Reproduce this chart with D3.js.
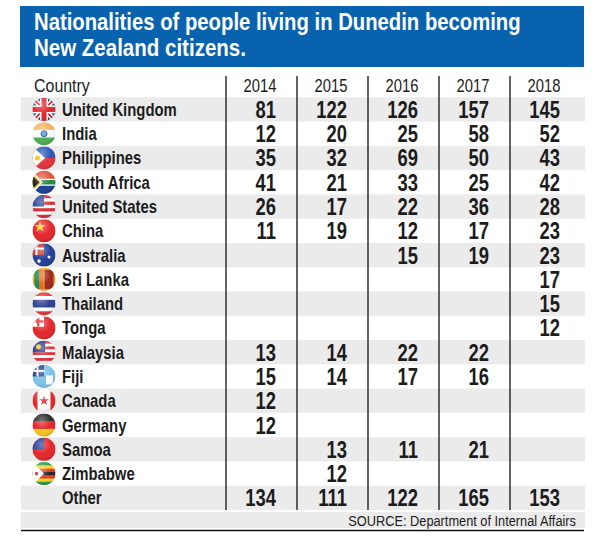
<!DOCTYPE html>
<html><head><meta charset="utf-8">
<script src="https://cdn.jsdelivr.net/npm/d3@7"></script>
<style>body{margin:0;background:#fff}svg{display:block}</style>
</head><body><svg id="c" width="607" height="536"></svg>
<script>
const titleLines = ["Nationalities of people living in Dunedin becoming", "New Zealand citizens."];
const source = "SOURCE: Department of Internal Affairs";
const years = ["2014", "2015", "2016", "2017", "2018"];
const countries = ["United Kingdom","India","Philippines","South Africa","United States","China","Australia","Sri Lanka","Thailand","Tonga","Malaysia","Fiji","Canada","Germany","Samoa","Zimbabwe","Other"];
const flags = ["gb","in","ph","za","us","cn","au","lk","th","to","my","fj","ca","de","ws","zw",null];
const v2014 = [81,12,35,41,26,11,null,null,null,null,13,15,12,12,null,null,134];
const v2015 = [122,20,32,21,17,19,null,null,null,null,14,14,null,null,13,12,111];
const v2016 = [126,25,69,33,22,12,15,null,null,null,22,17,null,null,11,null,122];
const v2017 = [157,58,50,25,36,17,19,null,null,null,22,16,null,null,21,null,165];
const v2018 = [145,52,43,42,28,23,23,17,15,12,null,null,null,null,null,null,153];
const series = [v2014, v2015, v2016, v2017, v2018];

const svg = d3.select("#c");
const FONT = "'Liberation Sans',Arial,Helvetica,sans-serif";
const INK = "#1c1c1c";

function fitWidth(node, x0, y0, target){
  const w = node.getComputedTextLength();
  const k = w > 0 ? target / w : 1;
  d3.select(node).attr("transform", `translate(${x0},${y0}) scale(${k},1)`);
}

// header
svg.append("rect").attr("x",20).attr("y",6).attr("width",564).attr("height",61).attr("fill","#0862ad");
const titleW = [487, 212];
svg.selectAll("text.title").data(titleLines).join("text").attr("class","title")
  .attr("fill","#fff").attr("font-family",FONT).attr("font-weight","bold").attr("font-size",23)
  .text(d=>d)
  .each(function(d,i){ fitWidth(this, 34, 30+i*26, titleW[i]); });

const rowKeys = ["__header", ...countries];
const y = d3.scaleBand().domain(rowKeys).range([73, 510]);
const x = d3.scaleBand().domain(years).range([226, 581]);
const rightPad = 21;

// stripes
svg.selectAll("rect.stripe").data(countries.filter((d,i)=>i%2===0)).join("rect").attr("class","stripe")
  .attr("x",21).attr("width",564).attr("y",d=>y(d)).attr("height",y.bandwidth())
  .attr("fill","#ebebeb");
svg.append("rect").attr("x",21).attr("width",564).attr("y",512).attr("height",16).attr("fill","#ebebeb");
svg.append("line").attr("x1",21).attr("x2",584).attr("y1",530.5).attr("y2",530.5).attr("stroke","#111").attr("stroke-width",1.5);

// dividers
svg.selectAll("line.div").data(years).join("line").attr("class","div")
  .attr("x1",d=>x(d)).attr("x2",d=>x(d)).attr("y1",y("__header")+3).attr("y2",y.range()[1])
  .attr("stroke","#222").attr("stroke-width",1.4);

// header row
svg.append("text").attr("font-family",FONT).attr("font-size",19).attr("fill",INK).text("Country")
  .attr("transform",`translate(34,${y("__header")+y.bandwidth()/2+6.5}) scale(0.84,1)`);
svg.selectAll("text.yr").data(years).join("text").attr("class","yr")
  .attr("text-anchor","end").attr("font-family",FONT).attr("font-size",18.5).attr("fill",INK).text(d=>d)
  .attr("transform",d=>`translate(${x(d)+x.bandwidth()-rightPad+0.5},${y("__header")+y.bandwidth()/2+6.5}) scale(0.8,1)`);

// country names
svg.selectAll("text.cn").data(countries).join("text").attr("class","cn")
  .attr("font-family",FONT).attr("font-weight","bold").attr("font-size",18.6).attr("fill",INK).text(d=>d)
  .attr("transform",d=>`translate(62,${y(d)+y.bandwidth()/2+6.5}) scale(0.8,1)`);

// values
years.forEach((yr,j)=>{
  const cells = countries.map((c,i)=>({c, v:series[j][i]})).filter(d=>d.v!==null);
  svg.selectAll("text.v"+yr).data(cells).join("text").attr("class","v"+yr)
    .attr("text-anchor","end").attr("font-family",FONT).attr("font-weight","bold").attr("font-size",23).attr("fill",INK)
    .text(d=>d.v)
    .attr("transform",d=>`translate(${x(yr)+x.bandwidth()-rightPad},${y(d.c)+y.bandwidth()/2+8.5}) scale(0.8,1)`);
});

// flags
const defs = svg.append("defs");
const grad = defs.append("radialGradient").attr("id","gloss").attr("cx","40%").attr("cy","30%").attr("r","70%");
grad.append("stop").attr("offset","0%").attr("stop-color","#fff").attr("stop-opacity",0.35);
grad.append("stop").attr("offset","60%").attr("stop-color","#fff").attr("stop-opacity",0);
grad.append("stop").attr("offset","100%").attr("stop-color","#000").attr("stop-opacity",0.12);
const R = 11.5;
countries.forEach((c,i)=>{
  const code = flags[i]; if(!code) return;
  const cx = 44, cy = y(c)+y.bandwidth()/2;
  const id = "clip"+i;
  defs.append("clipPath").attr("id",id).append("circle").attr("cx",cx).attr("cy",cy).attr("r",R);
  const g = svg.append("g").attr("clip-path",`url(#${id})`);
  const L = cx-R, T = cy-R, W = 2*R;
  const rect=(x0,y0,w,h,f)=>g.append("rect").attr("x",x0).attr("y",y0).attr("width",w).attr("height",h).attr("fill",f);
  const hstripes=(cols)=>cols.forEach((f,k)=>rect(L,T+k*W/cols.length,W,W/cols.length+0.5,f));
  const poly=(pts,f)=>g.append("polygon").attr("points",pts.map(p=>p.join(",")).join(" ")).attr("fill",f);
  switch(code){
    case "gb":
      rect(L,T,W,W,"#1f3f8f");
      g.append("line").attr("x1",L).attr("y1",T).attr("x2",L+W).attr("y2",T+W).attr("stroke","#fff").attr("stroke-width",5);
      g.append("line").attr("x1",L+W).attr("y1",T).attr("x2",L).attr("y2",T+W).attr("stroke","#fff").attr("stroke-width",5);
      g.append("line").attr("x1",L).attr("y1",T).attr("x2",L+W).attr("y2",T+W).attr("stroke","#d22").attr("stroke-width",1.8);
      g.append("line").attr("x1",L+W).attr("y1",T).attr("x2",L).attr("y2",T+W).attr("stroke","#d22").attr("stroke-width",1.8);
      rect(cx-4,T,8,W,"#fff"); rect(L,cy-4,W,8,"#fff");
      rect(cx-2.5,T,5,W,"#e0262b"); rect(L,cy-2.5,W,5,"#e0262b"); break;
    case "in":
      hstripes(["#f7b15a","#fafafa","#4fae55"]);
      g.append("circle").attr("cx",cx).attr("cy",cy).attr("r",3).attr("fill","#5aa0d8").attr("stroke","#2a4fa0").attr("stroke-width",1); break;
    case "ph":
      hstripes(["#2a55b8","#e3343b"]);
      poly([[L,T],[L+W*0.55,cy],[L,T+W]],"#fafafa");
      g.append("circle").attr("cx",L+5).attr("cy",cy).attr("r",2.5).attr("fill","#f2c21a"); break;
    case "za":
      hstripes(["#e4523b","#1c3f94"]);
      rect(L,cy-3.5,W,7,"#fff"); rect(L,cy-2.2,W,4.4,"#1f8a44");
      poly([[L,T],[L+W*0.45,cy],[L,T+W]],"#fff");
      poly([[L,T+3],[L+W*0.38,cy],[L,T+W-3]],"#f2b81c");
      poly([[L,T+5],[L+W*0.3,cy],[L,T+W-5]],"#222"); break;
    case "us":
      hstripes(["#d6313b","#fff","#d6313b","#fff","#d6313b","#fff","#d6313b"]);
      rect(L,T,W*0.5,W*0.5,"#2b4a9a"); break;
    case "cn":
      rect(L,T,W,W,"#e3262a");
      g.append("path").attr("d",d3.symbol(d3.symbolStar,40)()).attr("transform",`translate(${cx-4},${cy-4})`).attr("fill","#f7d31b"); break;
    case "au":
      rect(L,T,W,W,"#233f96");
      rect(L,T,W*0.5,W*0.5,"#c33");
      rect(L+3,T,2,W*0.5,"#fff"); rect(L,T+4,W*0.5,2,"#fff");
      g.append("circle").attr("cx",cx+5).attr("cy",cy+2).attr("r",1.5).attr("fill","#fff");
      g.append("circle").attr("cx",cx-5).attr("cy",cy+6).attr("r",1.8).attr("fill","#fff"); break;
    case "lk":
      rect(L,T,W,W,"#f0a628");
      rect(L+2,T+2,5,W-4,"#1f8a55"); rect(L+7,T+2,4,W-4,"#e86a1d");
      rect(L+12,T+2,W-14,W-4,"#a0281c"); break;
    case "th":
      hstripes(["#e23a3a","#fff","#2d3f8f","#2d3f8f","#fff","#e23a3a"]); break;
    case "to":
      rect(L,T,W,W,"#e3262a");
      rect(L,T,W*0.5,W*0.45,"#fff");
      rect(L+W*0.25-1.2,T+2,2.4,W*0.35,"#e3262a"); rect(L+3,T+W*0.22-1.2,W*0.35,2.4,"#e3262a"); break;
    case "my":
      hstripes(["#d9363d","#fff","#d9363d","#fff","#d9363d","#fff","#d9363d","#fff"]);
      rect(L,T,W*0.55,W*0.5,"#2b3f94");
      g.append("circle").attr("cx",L+6).attr("cy",T+6).attr("r",2.5).attr("fill","#f4c61c"); break;
    case "fj":
      rect(L,T,W,W,"#7cc3e8");
      rect(L,T,W*0.5,W*0.5,"#2a3f8a");
      rect(L+4,T,2,W*0.5,"#fff"); rect(L,T+5,W*0.5,2,"#fff");
      rect(cx+2,cy-1,7,9,"#fff"); break;
    case "ca":
      rect(L,T,W,W,"#fff"); rect(L,T,5,W,"#e3262a"); rect(L+W-5,T,5,W,"#e3262a");
      g.append("path").attr("d",d3.symbol(d3.symbolStar,30)()).attr("transform",`translate(${cx},${cy})`).attr("fill","#e3262a"); break;
    case "de":
      hstripes(["#2a2a2a","#e3262a","#f6c61c"]); break;
    case "ws":
      rect(L,T,W,W,"#e3262a"); rect(L,T,W*0.5,W*0.5,"#2b3f94"); break;
    case "zw":
      hstripes(["#2c9a45","#f5d51f","#e03a2a","#222","#e03a2a","#f5d51f","#2c9a45"]);
      poly([[L,T],[L+W*0.5,cy],[L,T+W]],"#fff");
      g.append("circle").attr("cx",L+4).attr("cy",cy).attr("r",1.8).attr("fill","#d33"); break;
  }
  g.append("circle").attr("cx",cx).attr("cy",cy).attr("r",R).attr("fill","url(#gloss)");
});

// source
svg.append("text").attr("text-anchor","end")
  .attr("font-family",FONT).attr("font-size",14.5).attr("fill",INK).text(source)
  .each(function(){ fitWidth(this, 576, 525.5, 228); });
</script></body></html>
